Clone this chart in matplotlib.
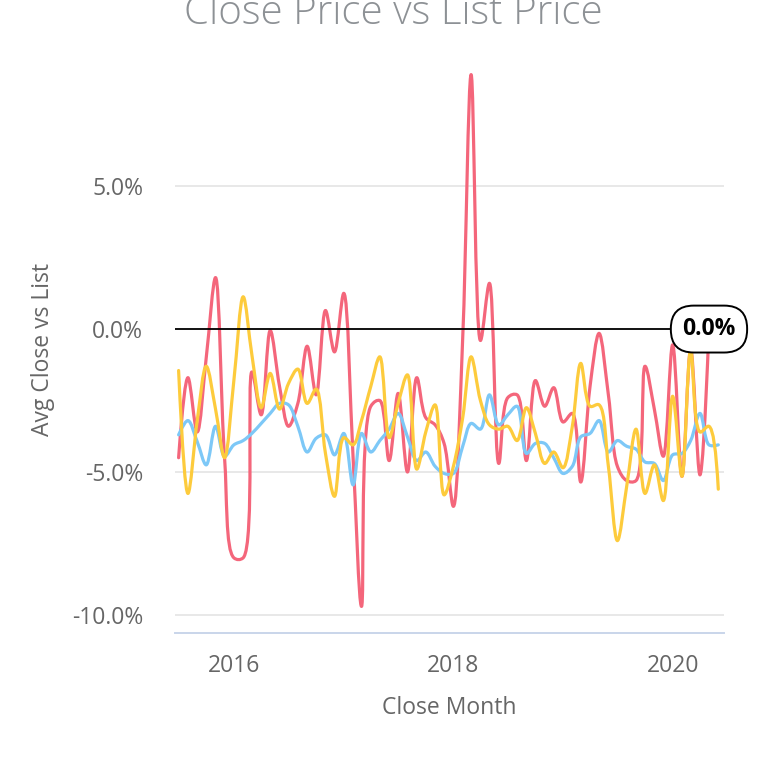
import numpy as np
import pandas as pd
import matplotlib
matplotlib.use("Agg")
import matplotlib.pyplot as plt
import matplotlib.dates as mdates
from matplotlib.path import Path
from matplotlib.patches import PathPatch

plt.rcParams['font.family'] = ['Open Sans', 'DejaVu Sans']

# ---------------- data ----------------
months = pd.date_range('2015-07-01', periods=60, freq='MS')

red_vals = [-4.5, -1.7, -3.6, -1.0, 1.8, -4.5, -8.0, -8.0, -1.5, -3.0,
            -0.05, -2.0, -3.4, -2.6, -0.6, -2.3, 0.65, -0.8, 1.25, -4.5,
            -9.7, -2.7, -2.5, -4.6, -2.25, -5.0, -1.7, -3.1, -3.35, -4.0,
            -6.2, -0.3, 8.9, -0.4, 1.6, -4.7, -2.4, -2.3, -4.6, -1.8,
            -2.7, -2.05, -3.25, -2.95, -5.35, -2.0, -0.15, -2.3, -4.8, -5.3,
            -5.3, -1.3, -2.8, -4.45, -0.55, -5.15, -0.7, -5.1, 0.0]

yellow_vals = [-1.45, -5.75, -3.2, -1.3, -2.8, -4.5, -1.8, 1.13, -0.9, -2.75,
               -1.55, -2.8, -1.9, -1.4, -2.6, -2.1, -4.35, -5.85, -3.8, -4.05,
               -3.2, -2.0, -0.97, -3.8, -2.6, -1.6, -4.9, -3.6, -2.65, -5.8,
               -4.8, -3.1, -0.97, -2.5, -3.35, -3.5, -3.4, -3.9, -2.75, -3.65,
               -4.7, -4.3, -4.85, -3.4, -1.2, -2.7, -2.65, -4.8, -7.4, -5.5,
               -3.5, -5.75, -4.75, -6.0, -2.35, -5.15, -0.75, -3.6, -3.4, -5.6]

blue_vals = [-3.7, -3.2, -3.94, -4.75, -3.4, -4.45, -4.05, -3.9, -3.65, -3.3,
             -2.95, -2.6, -2.65, -3.4, -4.3, -3.82, -3.7, -4.4, -3.65, -5.45,
             -3.65, -4.3, -3.9, -3.5, -2.95, -3.77, -4.6, -4.3, -4.8, -5.05,
             -5.05, -4.1, -3.3, -3.5, -2.3, -3.35, -3.0, -2.7, -4.35, -4.0,
             -4.0, -4.5, -5.05, -4.8, -3.77, -3.65, -3.2, -4.3, -3.9, -4.1,
             -4.2, -4.65, -4.7, -5.3, -4.4, -4.35, -3.9, -2.95, -4.05, -4.05]

y_ticks = [-10, -5, 0, 5]
y_tick_labels = ['-10.0%', '-5.0%', '0.0%', '5.0%']
x_tick_years = [2016, 2018, 2020]
ref_value = 0.0
ref_label = '0.0%'

title = 'Close Price vs List Price'
x_title = 'Close Month'
y_title = 'Avg Close vs List'

RED = '#f4667b'
YELLOW = '#fdcb3c'
BLUE = '#7dc8f7'

# ---------------- figure ----------------
W = H = 765
fig = plt.figure(figsize=(W / 100, H / 100), dpi=100)
ax = fig.add_axes([175 / W, (H - 633) / H, (724 - 175) / W, (633 - 46) / H])

ax.set_xlim(mdates.date2num(pd.Timestamp('2015-06-19')),
            mdates.date2num(pd.Timestamp('2020-06-20')))
ax.set_ylim(-10.63, 9.9)

for s in ['top', 'right', 'left']:
    ax.spines[s].set_visible(False)
ax.spines['bottom'].set_color('#c9d5ea')
ax.spines['bottom'].set_linewidth(1.4)

ax.set_yticks(y_ticks)
ax.set_yticklabels(y_tick_labels)
ax.set_xticks([mdates.date2num(pd.Timestamp(f'{y}-01-01')) for y in x_tick_years])
ax.set_xticklabels([str(y) for y in x_tick_years])
ax.tick_params(axis='both', length=0, colors='#666666', labelsize=16.5)
ax.tick_params(axis='y', pad=23)
ax.tick_params(axis='x', pad=15)
ax.grid(axis='y', color='#e6e6e6', lw=1.3)
ax.set_axisbelow(True)


def plotly_spline(xs, ys):
    pts = ax.transData.transform(np.column_stack([xs, ys]))
    n = len(pts)
    tangents = []
    for i in range(1, n - 1):
        prev, this, nxt = pts[i - 1], pts[i], pts[i + 1]
        d1 = prev - this
        d2 = nxt - this
        d1a = np.hypot(*d1) ** 0.5
        d2a = np.hypot(*d2) ** 0.5
        num = d2a * d2a * d1 - d1a * d1a * d2
        den1 = 3 * d2a * (d1a + d2a)
        den2 = 3 * d1a * (d1a + d2a)
        t0 = this + (num / den1 if den1 else 0)
        t1 = this - (num / den2 if den2 else 0)
        tangents.append((t0, t1))
    verts = [pts[0], tangents[0][0], pts[1]]
    codes = [Path.MOVETO, Path.CURVE3, Path.CURVE3]
    for i in range(2, n - 1):
        verts += [tangents[i - 2][1], tangents[i - 1][0], pts[i]]
        codes += [Path.CURVE4] * 3
    verts += [tangents[n - 3][1], pts[n - 1]]
    codes += [Path.CURVE3] * 2
    data_verts = ax.transData.inverted().transform(np.array(verts))
    return Path(data_verts, codes)


xnum = mdates.date2num(months)
for vals, col, z in [(red_vals, RED, 3), (blue_vals, BLUE, 4), (yellow_vals, YELLOW, 5)]:
    path = plotly_spline(xnum[:len(vals)], np.array(vals))
    ax.add_patch(PathPatch(path, facecolor='none', edgecolor=col, lw=2.3,
                           zorder=z, capstyle='round', joinstyle='round'))

ax.axhline(ref_value, color='black', lw=1.3, zorder=6)
ax.annotate(ref_label, xy=(xnum[len(red_vals) - 1], ref_value),
            ha='center', va='center', fontsize=16.5, fontweight='bold', color='black',
            bbox=dict(boxstyle='round,pad=0.5,rounding_size=1.0', fc='white',
                      ec='black', lw=1.4),
            zorder=10, annotation_clip=False)

fig.text(393 / W, 1 - 23.5 / H, title, ha='center', va='baseline', fontsize=29,
         color='#8d9195', fontweight='light')
fig.text(449.5 / W, 1 - 708 / H, x_title, ha='center', va='center',
         fontsize=16.5, color='#666666')
fig.text(43 / W, 1 - 350 / H, y_title, ha='center', va='center', rotation=90,
         fontsize=16.5, color='#666666')

fig.savefig('out.png', dpi=100)
